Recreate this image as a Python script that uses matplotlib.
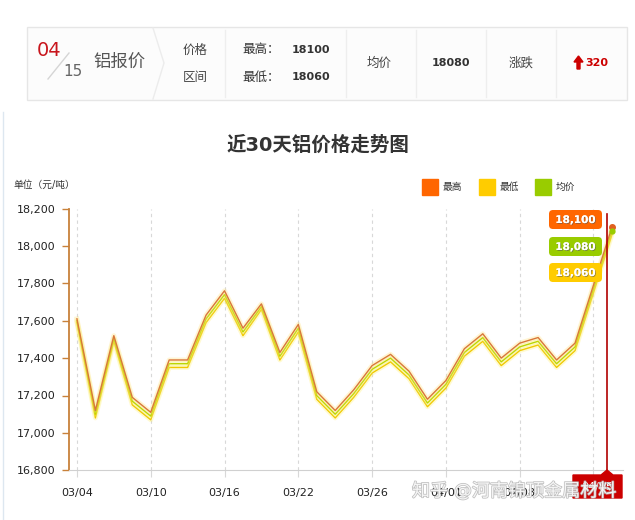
import numpy as np
import matplotlib
matplotlib.use('Agg')
import matplotlib.pyplot as plt
from matplotlib.patches import Rectangle, FancyBboxPatch, Polygon
from matplotlib.lines import Line2D
from matplotlib.transforms import Affine2D
import matplotlib.patheffects as pe

plt.rcParams['font.family'] = ['DejaVu Sans', 'Noto Sans CJK SC']

# ---------------------------------------------------------------- data
dates = ['03/04', '03/05', '03/06', '03/07', '03/10', '03/11', '03/12', '03/13',
         '03/16', '03/17', '03/18', '03/19', '03/22', '03/23', '03/24', '03/25',
         '03/26', '03/29', '03/30', '03/31', '04/01', '04/02', '04/06', '04/07',
         '04/08', '04/09', '04/12', '04/13', '04/14', '04/15']
high = [17610, 17120, 17520, 17190, 17110, 17390, 17390, 17630, 17760, 17560,
        17690, 17430, 17580, 17220, 17120, 17230, 17360, 17420, 17330, 17180,
        17280, 17450, 17530, 17400, 17480, 17510, 17390, 17480, 17790, 18100]
low = [17590, 17080, 17490, 17150, 17070, 17350, 17350, 17590, 17720, 17520,
       17660, 17390, 17540, 17180, 17080, 17190, 17320, 17380, 17290, 17140,
       17240, 17410, 17490, 17360, 17440, 17470, 17350, 17440, 17750, 18060]
avg = [17600, 17100, 17505, 17170, 17090, 17370, 17370, 17610, 17740, 17540,
       17675, 17410, 17560, 17200, 17100, 17210, 17340, 17400, 17310, 17160,
       17260, 17430, 17510, 17380, 17460, 17490, 17370, 17460, 17770, 18080]
yticks = [16800, 17000, 17200, 17400, 17600, 17800, 18000, 18200]

c_high = '#ff6600'
c_low = '#ffcc00'
c_avg = '#99cc00'

#-------------------------------------------------------------------------
fig = plt.figure(figsize=(6.35, 5.2), dpi=100)
fig.patch.set_facecolor('white')
# pixel coords, origin top-left
T = Affine2D().scale(1 / 100, -1 / 100).translate(0, 5.2) + fig.dpi_scale_trans

def ptext(x, y, s, **kw):
	kw.setdefault('ha', 'left')
	kw.setdefault('va', 'center')
	fig.text(x, y, s, transform=T, **kw)

def pline(xs, ys, **kw):
	fig.add_artist(Line2D(xs, ys, transform=T, **kw))

# left page border
pline([3, 3], [112, 520], color='#dde7f0', lw=1)

# header box
fig.add_artist(Rectangle((27, 27), 600, 73, transform=T, facecolor='#fcfcfc',
	edgecolor='#e6e6e6', lw=1))
pline([48, 69], [79, 53], color='#d5d5d5', lw=1)
ptext(37, 51, '04', color='#c8161d', fontsize=14)
ptext(63, 71, '15', color='#666666', fontsize=11)
ptext(93, 62, '铝报价', color='#555555', fontsize=12.5)
pline([153, 164, 153], [28, 63, 99], color='#ececec', lw=1)
ptext(183, 50, '价格', color='#444444', fontsize=9)
ptext(183, 77, '区间', color='#444444', fontsize=9)
for sx in [225, 346, 416, 486, 556]:
	pline([sx, sx], [30, 97], color='#eeeeee', lw=1)
ptext(242, 50, '最高：', color='#333333', fontsize=9)
ptext(242, 77, '最低：', color='#333333', fontsize=9)
ptext(292, 50, '18100', color='#333333', fontsize=8, fontweight='bold')
ptext(292, 77, '18060', color='#333333', fontsize=8, fontweight='bold')
ptext(379, 63, '均价', color='#444444', fontsize=9, ha='center')
ptext(451, 63, '18080', color='#333333', fontsize=8, fontweight='bold', ha='center')
ptext(521, 63, '涨跌', color='#444444', fontsize=9, ha='center')
fig.add_artist(Polygon([[574, 62], [578.5, 56], [583, 62], [580, 62], [580, 69],
	[577, 69], [577, 62]], closed=True, transform=T, color='#cc0000'))
ptext(585, 63, '320', color='#cc0000', fontsize=8, fontweight='bold')

# title and unit
ptext(318, 145, '近30天铝价格走势图', color='#333333', fontsize=14, fontweight='bold', ha='center')
ptext(13, 185, '单位（元/吨）', color='#333333', fontsize=7)

# legend
for lx, col, lab in [(422, c_high, '最高'), (479, c_low, '最低'), (535, c_avg, '均价')]:
	fig.add_artist(Rectangle((lx, 179), 16, 16, transform=T, color=col))
	ptext(lx + 21, 187, lab, color='#333333', fontsize=7)

#-------------------------------------------------------------------------
ax = fig.add_axes([69 / 635, 1 - 470.3 / 520, (623 - 69) / 635, (470.3 - 208.5) / 520])
x = np.arange(len(dates))

glow = lambda c: [pe.withStroke(linewidth=3.5, foreground=c, alpha=0.3)]
ax.plot(x, low, color='#f0c800', lw=1.0, path_effects=glow('#fff066'), zorder=3)
ax.plot(x, avg, color='#bcd600', lw=1.0, path_effects=glow('#f2f27a'), zorder=4)
ax.plot(x, high, color='#d9773a', lw=1.0, path_effects=glow('#ffe070'), zorder=5)
ax.plot(x[-1], high[-1], 'o', color='#e06020', ms=4, zorder=6)
ax.plot(x[-1], avg[-1], 'o', color=c_avg, ms=3.5, zorder=6)

ax.set_xlim(-0.43, 29.6)
ax.set_ylim(16800, 18200)
ax.set_yticks(yticks)
ax.set_yticklabels(['{:,}'.format(v) for v in yticks])
ax.set_xticks(x[::4])
ax.set_xticklabels(dates[::4])
ax.tick_params(axis='y', colors='#c8813a', length=5, width=1, labelcolor='#222222',
	labelsize=8, pad=5)
ax.tick_params(axis='x', colors='#d8d8d8', length=5, width=0.8, labelcolor='#222222',
	labelsize=8, pad=8)
for s in ['top', 'right']:
	ax.spines[s].set_visible(False)
ax.spines['left'].set_color('#c8813a')
ax.spines['left'].set_linewidth(1.3)
ax.spines['bottom'].set_color('#d0d0d0')
ax.grid(axis='x', linestyle=(0, (3, 3)), color='#d8d8d8', lw=0.8)
ax.set_axisbelow(True)

# crosshair at the last day
ax.axvline(x[-1] - 0.25, ymax=0.98, color='#b00000', lw=1.2, zorder=7)

# value callouts
for by, col, val in [(210, c_high, high[-1]), (237, c_avg, avg[-1]), (263, c_low, low[-1])]:
	fig.add_artist(FancyBboxPatch((549, by), 53, 19, boxstyle='round,pad=0,rounding_size=4',
		transform=T, facecolor=col, edgecolor='none'))
	ptext(575.5, by + 10, '{:,}'.format(val), color='white', fontsize=7.5, fontweight='bold',
		ha='center', path_effects=[pe.withSimplePatchShadow(offset=(0.6, -0.6),
		shadow_rgbFace='#555555', alpha=0.6), pe.Normal()])

# red date box at the bottom
fig.add_artist(Polygon([[573, 475], [601, 475], [607, 470], [613, 475], [622, 475],
	[622, 498], [573, 498]], closed=True, transform=T, color='#cc0000'))
ptext(597, 487, dates[-1], color='white', fontsize=8, ha='center')

# watermark
ptext(412, 491, '知乎 @河南锦顶金属材料', color='white', fontsize=13, alpha=0.85,
	path_effects=[pe.withStroke(linewidth=1.1, foreground='#b4b4b4')])

fig.savefig('out.png', dpi=100)
